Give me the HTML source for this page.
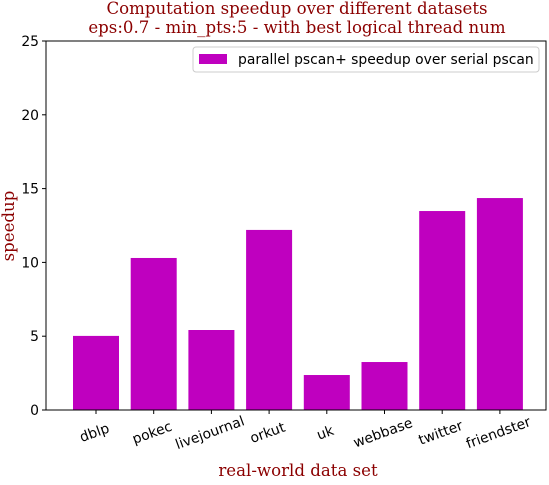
<!DOCTYPE html>
<html><head><meta charset="utf-8"><style>body{margin:0;background:#fff}</style></head><body>
<svg id="c" width="549" height="480" xmlns="http://www.w3.org/2000/svg">
<text x="297" y="14" text-anchor="middle" font-family="DejaVu Serif, serif" font-size="16.6" fill="#8b0000">Computation speedup over different datasets</text>
<text x="297" y="33" text-anchor="middle" font-family="DejaVu Serif, serif" font-size="16.6" fill="#8b0000">eps:0.7 - min_pts:5 - with best logical thread num</text>
<g id="bars"></g>
<rect x="46" y="41" width="500" height="369" fill="none" stroke="#000" stroke-width="1"/>
<g id="axes"></g>
<text x="298" y="476" text-anchor="middle" font-family="DejaVu Serif, serif" font-size="16.6" fill="#8b0000">real-world data set</text>
<text transform="translate(14,226) rotate(-90)" text-anchor="middle" font-family="DejaVu Serif, serif" font-size="16.6" fill="#8b0000">speedup</text>
<g>
<rect x="193" y="47" width="346" height="25" fill="#fff" stroke="#ccc" rx="3"/>
<rect x="199" y="54" width="28" height="10" fill="#bf00bf"/>
<text x="238" y="64" font-family="DejaVu Sans, sans-serif" font-size="13.9" fill="#000">parallel pscan+ speedup over serial pscan</text>
</g>
</svg>
<script>
const categories=["dblp","pokec","livejournal","orkut","uk","webbase","twitter","friendster"];
const speedups=[5.02,10.3,5.42,12.2,2.37,3.25,13.48,14.36];
const yTicks=[0,5,10,15,20,25];
const NS="http://www.w3.org/2000/svg";
const y=v=>410-v*369/25;
const x=i=>96+i*57.7;
const bars=document.getElementById('bars'),axes=document.getElementById('axes');
categories.forEach((c,i)=>{
 const r=document.createElementNS(NS,'rect');
 r.setAttribute('x',x(i)-23);r.setAttribute('width',46);
 r.setAttribute('y',y(speedups[i]));r.setAttribute('height',y(0)-y(speedups[i]));
 r.setAttribute('fill','#bf00bf');
 
 
 bars.appendChild(r);
 const t=document.createElementNS(NS,'line');
 t.setAttribute('x1',x(i));t.setAttribute('x2',x(i));t.setAttribute('y1',410);t.setAttribute('y2',414);t.setAttribute('stroke','#000');
 
 
 axes.appendChild(t);
 const l=document.createElementNS(NS,'text');
 l.setAttribute('transform',`translate(${x(i)},${437}) rotate(-20)`);
 l.setAttribute('text-anchor','middle');l.setAttribute('font-family','DejaVu Sans, sans-serif');l.setAttribute('font-size','13.9');
 l.textContent=c;
 
 
 axes.appendChild(l);
});
yTicks.forEach(v=>{
 const t=document.createElementNS(NS,'line');
 t.setAttribute('x1',42);t.setAttribute('x2',46);t.setAttribute('y1',y(v));t.setAttribute('y2',y(v));t.setAttribute('stroke','#000');
 
 
 axes.appendChild(t);
 const l=document.createElementNS(NS,'text');
 l.setAttribute('x',39);l.setAttribute('y',y(v)+5);l.setAttribute('text-anchor','end');
 l.setAttribute('font-family','DejaVu Sans, sans-serif');l.setAttribute('font-size','13.9');
 l.textContent=v;
 
 
 axes.appendChild(l);
});
</script>
</body></html>
